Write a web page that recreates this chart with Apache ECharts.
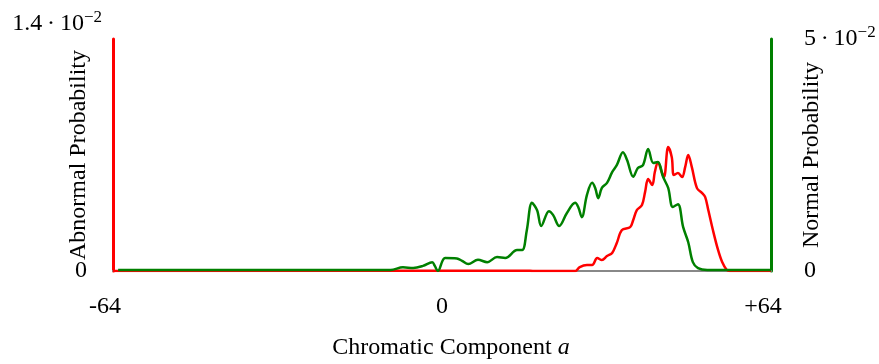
<!DOCTYPE html>
<html>
<head>
<meta charset="utf-8">
<script src="https://cdn.jsdelivr.net/npm/echarts@6/dist/echarts.min.js"></script>
<style>
  html, body { margin: 0; padding: 0; background: #fff; }
  #chart { width: 879px; height: 364px; }
</style>
</head>
<body>
<div id="chart"></div>
<script>
// normal distribution (right axis, green)
const normX = [-63, -10, -7.6, -5.6, -3.7, -1.9, -1.4, -0.8, 0.6, 2.9, 3.9, 5.1, 7.0, 8.8, 10.7, 12.3,
  14.6, 15.6, 16.5, 17.5, 18.5, 19.3, 20.8, 21.6, 22.8, 24.3, 25.9, 26.5, 27.2, 28.2, 29.2, 29.8,
  30.4, 31.1, 32.1, 33.1, 34.0, 35.2, 36.0, 37.2, 38.1, 39.1, 40.1, 41.1, 42.0, 43.0, 44.0, 44.9,
  45.9, 46.9, 47.9, 48.8, 49.8, 51.6, 64]
const normY = [0.0002, 0.0002, 0.0008, 0.00065, 0.0011, 0.0019, 0.0011, 0.0, 0.0028, 0.0027, 0.0022, 0.0015, 0.0024, 0.0019, 0.003, 0.0028,
  0.0045, 0.0045, 0.0088, 0.0147, 0.0131, 0.0097, 0.0129, 0.0121, 0.0097, 0.0125, 0.0147, 0.0138, 0.0116, 0.0164, 0.019, 0.0179,
  0.0157, 0.0179, 0.019, 0.0213, 0.0228, 0.0256, 0.0239, 0.0203, 0.0222, 0.0228, 0.0263, 0.0233, 0.0235, 0.0203, 0.0179, 0.0138,
  0.0144, 0.0095, 0.0062, 0.0019, 0.0006, 0.0002, 0.0002]

// abnormal distribution (left axis, red)
const abnX = [-64, 16.5, 17.7, 25.9, 26.8, 28.2, 29.2, 30.2, 31.1, 32.1, 33.1, 34.0, 35.0, 36.6, 37.2, 37.9,
  38.9, 39.5, 40.1, 40.9, 41.4, 42.0, 42.8, 43.2, 44.0, 44.7, 45.1, 45.9, 46.7, 47.3, 47.9, 48.6,
  49.6, 50.6, 51.2, 51.8, 52.7, 53.7, 54.5, 55.4, 56, 64]
const abnY = [0, 0.00002, 0, 0, 0.00024, 0.00036, 0.00036, 0.00078, 0.00066, 0.0009, 0.00109, 0.00169, 0.00247, 0.00265, 0.00308, 0.00368,
  0.00398, 0.00476, 0.00555, 0.00519, 0.00597, 0.00657, 0.00591, 0.00567, 0.00748, 0.00687, 0.00579, 0.00591, 0.00567, 0.00627, 0.007, 0.00627,
  0.005, 0.0047, 0.00446, 0.00368, 0.00247, 0.00127, 0.00054, 0.00006, 0, 0]

// tick labels
const xTicks = ['-64', '0', '+64']
const leftTicks = [['0', ''], ['1.4\u2009·\u200910', '−2']]
const rightTicks = [['0', ''], ['5\u2009·\u200910', '−2']]

const font = "'Liberation Serif', 'Times New Roman', serif"
const fs = 24

const chart = echarts.init(document.getElementById('chart'))

const supRich = {
  b: { fontSize: fs, fontFamily: font, color: '#000', lineHeight: 30 },
  s: { fontSize: 17, fontFamily: font, color: '#000', verticalAlign: 'top', lineHeight: 30 },
  z: { fontSize: fs, fontFamily: font, color: '#000', padding: [0, 15, 0, 0] }
}

function tickText(list, idx, left) {
  const t = list[idx]
  if (!t[1]) return left ? '{z|' + t[0] + '}' : '{b|' + t[0] + '}'
  return '{b|' + t[0] + '}{s|' + t[1] + '}' + (left ? '\n{b| }' : '')
}

const option = {
  animation: false,
  grid: { left: 113, right: 108, top: 39, bottom: 93, containLabel: false, outerBoundsMode: 'none' },
  xAxis: {
    type: 'value',
    min: -64, max: 64, interval: 64,
    name: '{n|Chromatic Component }{i|a}',
    nameLocation: 'middle',
    nameGap: 65,
    nameMoveOverlap: false,
    nameTextStyle: {
      padding: [0, 0, 0, 18],
      rich: {
        n: { fontSize: fs, fontFamily: font, color: '#000' },
        i: { fontSize: fs, fontFamily: font, color: '#000', fontStyle: 'italic' }
      }
    },
    axisLine: { show: true, lineStyle: { color: '#888', width: 2 } },
    axisTick: { show: false },
    splitLine: { show: false },
    axisLabel: {
      margin: 24,
      rich: {
        c: { fontSize: fs, fontFamily: font, color: '#000' },
        g: { fontSize: fs, fontFamily: font, color: '#000', padding: [0, 16, 0, 0] }
      },
      formatter: (v) => {
        const t = xTicks[Math.round((v + 64) / 64)]
        return v === 0 ? '{c|' + t + '}' : '{g|' + t + '}'
      }
    }
  },
  yAxis: [{
    type: 'value',
    min: 0, max: 0.014, interval: 0.014,
    position: 'left',
    name: 'Abnormal Probability',
    nameLocation: 'middle',
    nameGap: 22,
    nameRotate: 90,
    nameMoveOverlap: false,
    nameTextStyle: { fontSize: fs, fontFamily: font, color: '#000' },
    axisLine: { show: true, onZero: false, lineStyle: { color: '#ff0000', width: 3 } },
    axisTick: { show: false },
    splitLine: { show: false },
    axisLabel: {
      margin: 11,
      rich: supRich,
      formatter: (v) => tickText(leftTicks, v > 0 ? 1 : 0, true)
    }
  }, {
    type: 'value',
    min: 0, max: 0.05, interval: 0.05,
    position: 'right',
    name: 'Normal Probability',
    nameLocation: 'middle',
    nameGap: 29,
    nameRotate: 90,
    nameMoveOverlap: false,
    nameTextStyle: { fontSize: fs, fontFamily: font, color: '#000' },
    axisLine: { show: true, onZero: false, lineStyle: { color: '#008000', width: 3 } },
    axisTick: { show: false },
    splitLine: { show: false },
    axisLabel: {
      margin: 33,
      rich: supRich,
      formatter: (v) => tickText(rightTicks, v > 0 ? 1 : 0, false)
    }
  }],
  series: [{
    name: 'Abnormal',
    type: 'line',
    yAxisIndex: 0,
    data: abnX.map((x, i) => [x, abnY[i]]),
    showSymbol: false,
    smooth: 0.35,
    lineStyle: { color: '#ff0000', width: 2.5 },
    z: 3
  }, {
    name: 'Normal',
    type: 'line',
    yAxisIndex: 1,
    data: normX.map((x, i) => [x, normY[i]]),
    showSymbol: false,
    smooth: 0.35,
    lineStyle: { color: '#008000', width: 2.5 },
    z: 4
  }]
}

chart.setOption(option)
</script>
</body>
</html>
